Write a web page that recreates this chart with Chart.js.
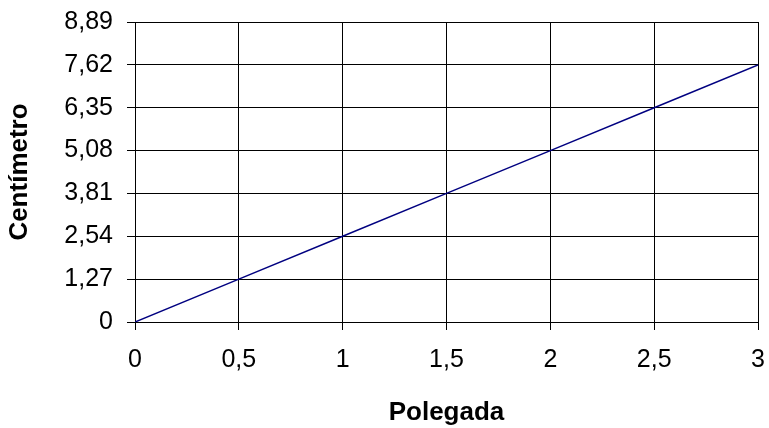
<!DOCTYPE html>
<html>
<head>
    <meta charset="utf-8">
    <title>Polegada x Centímetro</title>
    <script src="https://cdn.jsdelivr.net/npm/chart.js"></script>
    <style>
        body { margin: 0; background: #fff; }
    </style>
</head>
<body>
    <canvas id="convChart" width="769" height="428"></canvas>

    <script>
        // Data
        var polegadas = [0, 0.5, 1, 1.5, 2, 2.5, 3];
        var centimetros = [0, 1.27, 2.54, 3.81, 5.08, 6.35, 7.62];
        var xTicks = [0, 0.5, 1, 1.5, 2, 2.5, 3];
        var yTicks = [0, 1.27, 2.54, 3.81, 5.08, 6.35, 7.62, 8.89];

        var points = polegadas.map(function (x, i) {
            return { x: x, y: centimetros[i] };
        });

        // decimal comma
        function fmt(v) {
            return String(Math.round(v * 100) / 100).replace('.', ',');
        }

        var tickFont = { family: 'Liberation Sans, Arial, sans-serif', size: 25 };
        var titleFont = { family: 'Liberation Sans, Arial, sans-serif', size: 26, weight: 'bold' };

        var canvas = document.getElementById("convChart");

        var chart = new Chart(canvas, {
            type: 'line',
            data: {
                datasets: [{
                    data: points,
                    borderColor: '#000080',
                    borderWidth: 1.5,
                    pointRadius: 0,
                    fill: false,
                    tension: 0
                }]
            },
            options: {
                responsive: false,
                animation: false,
                layout: {
                    padding: { left: 0, right: 11, top: 22, bottom: 0 }
                },
                plugins: {
                    legend: { display: false },
                    tooltip: { enabled: false }
                },
                scales: {
                    x: {
                        type: 'linear',
                        min: 0,
                        max: 3,
                        afterBuildTicks: function (scale) {
                            scale.ticks = xTicks.map(function (v) { return { value: v }; });
                        },
                        afterFit: function (scale) {
                            scale.height = 106;
                            scale.paddingLeft = 0;
                            scale.paddingRight = 0;
                        },
                        ticks: {
                            color: '#000',
                            font: tickFont,
                            padding: 15,
                            maxRotation: 0,
                            callback: function (v) { return fmt(v); }
                        },
                        grid: { color: '#000', lineWidth: 1, tickLength: 8 },
                        border: { color: '#000', width: 1 },
                        title: {
                            display: true,
                            text: 'Polegada',
                            color: '#000',
                            font: titleFont,
                            padding: { top: 8, bottom: 0 }
                        }
                    },
                    y: {
                        type: 'linear',
                        min: 0,
                        max: 8.89,
                        afterBuildTicks: function (scale) {
                            scale.ticks = yTicks.map(function (v) { return { value: v }; });
                        },
                        afterFit: function (scale) {
                            scale.width = 135;
                            scale.paddingTop = 0;
                            scale.paddingBottom = 0;
                        },
                        ticks: {
                            color: '#000',
                            font: tickFont,
                            padding: 14,
                            callback: function (v) { return fmt(v); }
                        },
                        grid: { color: '#000', lineWidth: 1, tickLength: 8 },
                        border: { color: '#000', width: 1 },
                        title: {
                            display: true,
                            text: 'Centímetro',
                            color: '#000',
                            font: titleFont,
                            padding: { top: 4, bottom: 0 }
                        }
                    }
                }
            }
        });
    </script>
</body>
</html>
